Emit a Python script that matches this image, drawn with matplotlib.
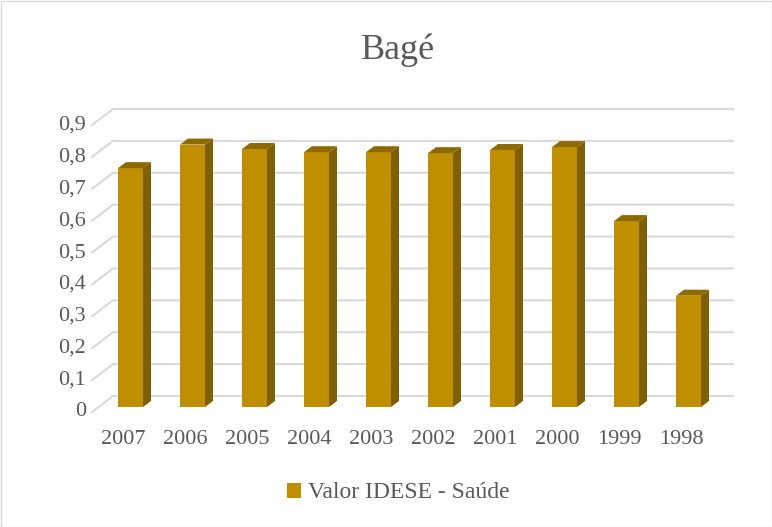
import matplotlib.pyplot as plt
from matplotlib.patches import Polygon, Rectangle
from matplotlib.lines import Line2D
from matplotlib.transforms import IdentityTransform
import numpy as np

# dados
anos = ['2007', '2006', '2005', '2004', '2003', '2002', '2001', '2000', '1999', '1998']
valores = [0.749, 0.823, 0.809, 0.799, 0.799, 0.796, 0.806, 0.815, 0.583, 0.349]
ticks_y = [0.0, 0.1, 0.2, 0.3, 0.4, 0.5, 0.6, 0.7, 0.8, 0.9]
rotulos_y = ['0', '0,1', '0,2', '0,3', '0,4', '0,5', '0,6', '0,7', '0,8', '0,9']

cor_frente = '#BF8F00'
cor_lado = '#7F5F00'
cor_topo = '#8C6A00'
cor_texto = '#595959'
cor_grade = '#D9D9D9'

plt.rcParams['font.family'] = ['Liberation Serif', 'DejaVu Serif']

W, H = 772, 527
fig = plt.figure(figsize=(W / 100, H / 100), dpi=100)
ax = fig.add_axes([99.5 / W, 120 / H, 620 / W, 287 / H])
ax.set_xlim(-0.5, len(anos) - 0.5)
ax.set_ylim(0, 0.9)
ax.axis('off')

# deslocamentos em pixels (perspectiva)
frente = (-7.5, -5)
fundo = (13.5, 11)
prof_barra = (8, 6)


def px(x, y, off=(0, 0)):
    p = ax.transData.transform((x, y))
    return (p[0] + off[0], p[1] + off[1])


# grade no fundo
for v, rot in zip(ticks_y, rotulos_y):
    a = px(-0.5, v, frente)
    b = px(-0.5, v, fundo)
    c = px(len(anos) - 0.5, v, fundo)
    ax.add_line(Line2D([a[0], b[0], c[0]], [a[1], b[1], c[1]], transform=IdentityTransform(),
                       color=cor_grade, lw=1.5, zorder=1, clip_on=False))
    fig.text(a[0] - 6, a[1], rot, transform=IdentityTransform(),
             ha='right', va='center', fontsize=16, color=cor_texto)

# barras
larg = 0.403
x = np.arange(len(anos))
ax.bar(x, valores, width=larg, color=cor_frente, zorder=3, clip_on=False)
for i, v in enumerate(valores):
    dx, dy = prof_barra
    r0 = px(i + larg / 2, 0)
    r1 = px(i + larg / 2, v)
    l1 = px(i - larg / 2, v)
    lado = [r0, r1, (r1[0] + dx, r1[1] + dy), (r0[0] + dx, r0[1] + dy)]
    topo = [l1, r1, (r1[0] + dx, r1[1] + dy), (l1[0] + dx, l1[1] + dy)]
    ax.add_patch(Polygon(lado, closed=True, transform=IdentityTransform(), facecolor=cor_lado,
                         edgecolor='none', zorder=4, clip_on=False))
    ax.add_patch(Polygon(topo, closed=True, transform=IdentityTransform(), facecolor=cor_topo,
                         edgecolor='none', zorder=4, clip_on=False))
    t = px(i, 0, frente)
    fig.text(t[0], t[1] - 28, anos[i], transform=IdentityTransform(),
             ha='center', va='center', fontsize=16, color=cor_texto)

fig.text(0.516, 1 - 50 / H, 'Bagé', ha='center', va='center', fontsize=26, color=cor_texto)

fig.legend([Rectangle((0, 0), 1, 1, facecolor=cor_frente)], ['Valor IDESE - Saúde'],
           loc='center', bbox_to_anchor=(0.516, 1 - 493 / H), frameon=False,
           fontsize=17, labelcolor=cor_texto, handlelength=0.6, handleheight=0.6,
           handletextpad=0.3)

fig.add_artist(Rectangle((0.5, 0.5), W - 1, H - 1, transform=IdentityTransform(),
                         fill=False, edgecolor=cor_grade, lw=1))

fig.savefig('out.png', dpi=100)
